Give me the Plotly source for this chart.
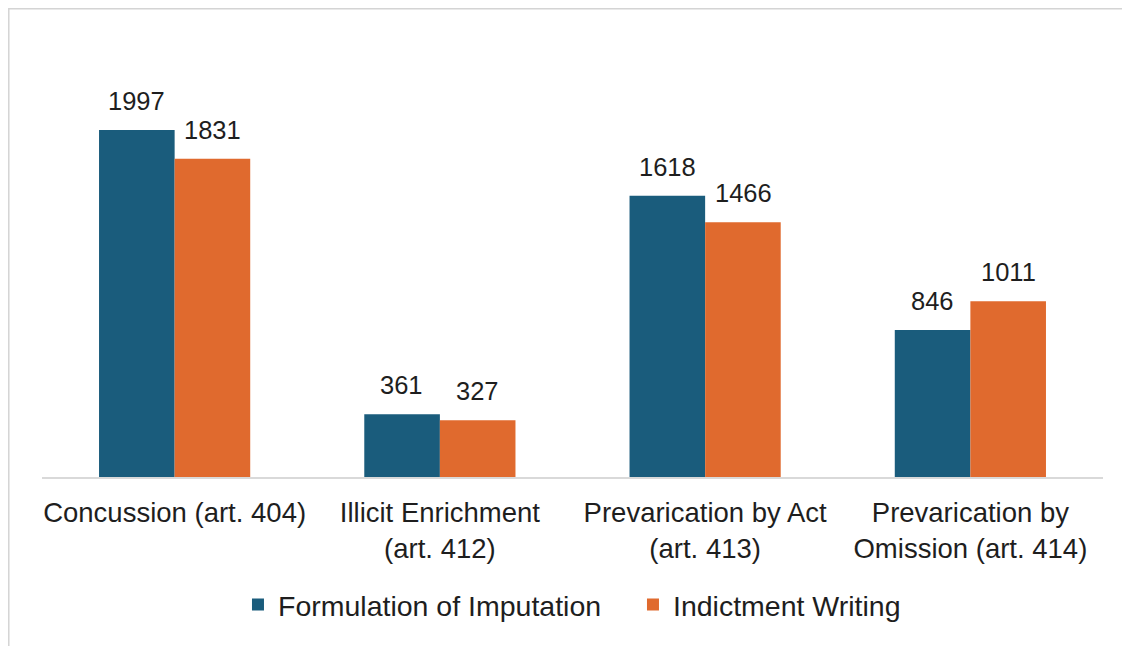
import plotly.graph_objects as go

categories = ["Concussion (art. 404)", "Illicit Enrichment<br>(art. 412)",
              "Prevarication by Act<br>(art. 413)", "Prevarication by<br>Omission (art. 414)"]
series_names = ["Formulation of Imputation", "Indictment Writing"]
formulation = [1997, 361, 1618, 846]
indictment = [1831, 327, 1466, 1011]
colors = ["#1a5c7c", "#e06a2e"]

FONT = "Liberation Sans, Arial, sans-serif"
TXT = "#1e1e1e"

fig = go.Figure()
for name, vals, col in zip(series_names, [formulation, indictment], colors):
    fig.add_trace(go.Bar(x=categories, y=vals, name=name, marker=dict(color=col, line=dict(width=0))))

# value labels
for vals, shift in [(formulation, -38), (indictment, 38)]:
    for c, v in zip(categories, vals):
        fig.add_annotation(x=c, y=v, text=str(v), showarrow=False, xshift=shift, yshift=13,
                           yanchor="bottom", font=dict(family=FONT, size=25.5, color=TXT))

# outer frame (light gray)
fig.add_shape(type="rect", xref="paper", yref="paper", x0=-0.0313, x1=1.06, y0=-0.6, y1=1.1229,
              line=dict(color="#d4d4d4", width=1.5), fillcolor="rgba(0,0,0,0)", layer="below")

fig.update_layout(
    width=1130, height=646,
    margin=dict(l=34, r=35, t=52, b=177),
    paper_bgcolor="white", plot_bgcolor="white",
    barmode="group", bargap=0.43, bargroupgap=0,
    font=dict(family=FONT, color=TXT),
    showlegend=True,
    legend=dict(orientation="h", x=0.557, xanchor="center", y=-0.307, yanchor="middle",
                font=dict(family=FONT, size=28.5, color=TXT), traceorder="normal",
                entrywidth=350, entrywidthmode="pixels"),
    xaxis=dict(showline=True, linecolor="#d9d9d9", linewidth=1.5, ticks="", showgrid=False,
               tickfont=dict(family=FONT, size=27.5, color=TXT), ticklabelstandoff=10,
               fixedrange=True),
    yaxis=dict(range=[0, 2400], visible=False, showgrid=False, zeroline=False, fixedrange=True),
)

fig.write_html("out.html")
